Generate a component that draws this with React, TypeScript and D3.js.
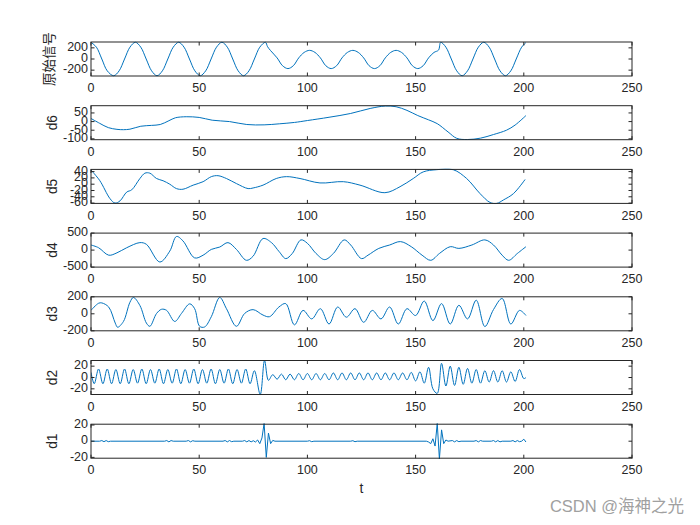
import React from "react";
import * as d3 from "d3";

type P = [number, number];

const xTicks = [0, 50, 100, 150, 200, 250];
const yLabels = ["原始信号", "d6", "d5", "d4", "d3", "d2", "d1"];
const yDomains: [number, number][] = [
  [-305, 305], [-105, 92], [-61, 47], [-500, 500], [-200, 200], [-30, 30], [-21, 21],
];
const yTicks: number[][] = [
  [-200, 0, 200], [-100, -50, 0, 50], [-60, -40, -20, 0, 20, 40], [-500, 0, 500],
  [-200, 0, 200], [-20, 0, 20], [-20, 0, 20],
];

const origSeries: P[] = [
  [0, 300], [2.5, 212], [5, 0], [7.5, -212], [10.5, -300], [13, -212], [15.5, 0], [18, 212], [20.5, 300],
  [23, 212], [25.5, 0], [28, -212], [30.5, -300], [33, -212], [35.5, 0], [38, 212], [40.5, 300],
  [43, 212], [45.5, 0], [48, -212], [50.5, -300], [53, -212], [55.5, 0], [58, 212], [60.5, 300],
  [63, 212], [65.5, 0], [68, -212], [70.5, -300], [73, -212], [75.5, 0], [78, 212], [80.6, 300],
  [81.6, 220], [83, 150], [86, 20], [88.5, -120], [91, -172], [93.5, -120], [96, 20], [98.5, 118], [101, 155],
  [103.5, 118], [106, 20], [108.5, -120], [111, -172], [113.5, -120], [116, 20], [118.5, 118], [121, 155],
  [123.5, 118], [126, 20], [128.5, -120], [131, -172], [133.5, -120], [136, 20], [138.5, 118], [141, 155],
  [143.5, 118], [146, 20], [148.5, -120], [151, -172], [153.5, -120], [156, 20], [158.5, 118], [160.6, 160],
  [161.6, 300], [164, 212], [166.5, 0], [169, -212], [171.5, -300], [174, -212], [176.5, 0], [179, 212], [181.5, 300],
  [184, 212], [186.5, 0], [189, -212], [191.5, -300], [194, -212], [196.5, 0], [199, 212], [201, 295],
];

const d6Series: P[] = [
  [0, 18], [4, -10], [8, -35], [12, -45], [15, -47], [18, -44], [23, -27], [28, -22], [32, -17], [36, 5],
  [39, 22], [44, 28], [50, 24], [56, 8], [64, 0], [72, -17], [80, -19], [87, -13], [94, -5], [100, 6],
  [110, 25], [120, 47], [129, 76], [136, 90], [141, 86], [146, 65], [151, 35], [156, 10], [160, -12],
  [165, -60], [169, -97], [174, -104], [180, -96], [186, -75], [192, -50], [196, -20], [201, 35],
];

const d5Series: P[] = [
  [0, 45], [4, 12], [8.8, -46], [11.1, -60], [13.4, -53], [16.5, -25], [18.8, -18], [22.6, 18], [24.9, 35],
  [27.2, 35], [30.3, 18], [33.3, 11], [36.4, 0], [39.5, -14], [42.5, -16], [47.2, -3], [51.8, 8], [55.6, 24],
  [58.7, 27], [62.6, 18], [67.2, 2], [72.6, -14], [74.9, -12], [79.5, -3], [85.6, 18], [90.4, 24], [96.6, 18],
  [105.8, 4], [116.6, 8], [124.3, -3], [135.8, -27], [142.8, -8], [148.9, 18], [153.5, 39], [159.7, 46],
  [167.4, 46], [173.6, 18], [179.8, -30], [184.4, -58], [187.5, -61], [190.6, -50], [195.2, -30], [200.6, 15],
];

const d4Series: P[] = [
  [0, 150], [3.5, 70], [8.2, -150], [12, -80], [16.5, 70], [22.6, 220], [25.6, 170], [31.8, -350], [36.4, -30],
  [39.5, 400], [42.5, 270], [47.9, -230], [51.8, -150], [55.6, 20], [59.5, 90], [63.3, 220], [67.2, 20],
  [71.8, -300], [74.9, -180], [79.5, 340], [83.4, 220], [87, -50], [90, -250], [93, -100], [97, 300],
  [100, 200], [104, -100], [108, -280], [112, -100], [117, 300], [120, 150], [125, -250], [128, -150],
  [133, 50], [138, 150], [143, 250], [148, 100], [153, -150], [157, -300], [161, -100], [166, 100],
  [170, 50], [176, 150], [182, 300], [186, 150], [190, -150], [193, -300], [197, -100], [201, 100],
];

const d3Series: P[] = [
  [0, 41], [3.5, 124], [5, 128], [8.2, 79], [11.2, -109], [12.3, -158], [15, -90], [18, 136], [19.6, 192],
  [22.6, 98], [25.6, -109], [27.2, -147], [30.3, 4], [32.6, 53], [34.9, 41], [38.7, -90], [41.8, 4],
  [45.6, 117], [47.9, 60], [50.2, -147], [52.5, -155], [55.6, -34], [59.5, 192], [62.6, 60], [67.2, -147],
  [71, 4], [74.9, 49], [79.5, -15], [82.5, -34], [86.8, 79], [90, 120], [94, -130], [98, 40], [102, -60],
  [106, 60], [110, -120], [114, 80], [118, -40], [122, 60], [126, -100], [130, 40], [134, -60], [138, 80],
  [142, -120], [146, 60], [150, -20], [154, 150], [158, -80], [162, 120], [166, -120], [170, 100],
  [174, -60], [178, 160], [182, -150], [186, 50], [190, 180], [194, -120], [198, 40], [201, -20],
];

const d2Series: P[] = [
  [0, 9], [1.5, -11], [3.5, 15], [5.5, -11], [7.5, 15], [9.5, -11], [11.5, 14], [13.5, -11], [15.5, 15],
  [17.5, -11], [19.5, 14], [21.5, -10], [23.5, 15], [25.5, -11], [27.5, 14], [29.5, -10], [31.5, 15],
  [33.5, -11], [35.5, 14], [37.5, -10], [39.5, 15], [41.5, -11], [43.5, 14], [45.5, -10], [47.5, 15],
  [49.5, -11], [51.5, 14], [53.5, -10], [55.5, 15], [57.5, -11], [59.5, 14], [61.5, -10], [63.5, 15],
  [65.5, -11], [67.5, 14], [69.5, -10], [71.5, 15], [73.5, -11], [75.5, 12], [78.2, -30], [80.2, 30],
  [82, -5], [84, 5], [86, -3], [88, 6], [90, -4], [92, 6], [94, -4], [96, 7], [98, -4], [100, 7],
  [102, -4], [104, 7], [106, -4], [108, 7], [110, -4], [112, 8], [114, -4], [116, 8], [118, -4], [120, 8],
  [122, -4], [124, 8], [126, -4], [128, 8], [130, -4], [132, 8], [134, -4], [136, 8], [138, -4], [140, 8],
  [142, -4], [144, 8], [146, -4], [148, 9], [150, -6], [152, 10], [154, -10], [156, 18], [158, -20],
  [160, -28], [162, 25], [164, -15], [166, 20], [168, -14], [170, 18], [172, -12], [174, 16], [176, -10],
  [178, 14], [180, -10], [182, 12], [184, -8], [186, 12], [188, -8], [190, 12], [192, -8], [194, 10],
  [196, -7], [198, 14], [200, -2], [201, 0],
];

const d1Series: P[] = [
  [0, 0], [4, 0], [5, 0.8], [6, -0.6], [7, 0.8], [8, -0.6], [9, 0], [34, 0], [35, 0.8], [36, -0.8], [37, 0.8],
  [38, 0], [44, 0], [45, 0.8], [46, -0.8], [47, 0.6], [48, 0], [61, 0], [62, 0.8], [63, -0.8], [64, 0.8],
  [65, -0.6], [66, 0], [70, 0], [71, 0.8], [72, -0.8], [73, 0.8], [74, -0.8], [75, 0.6], [76, -1], [77, 1.5],
  [78, -3], [79, 4], [80, 22], [81, -20], [82, 10], [83, -3], [84, 1], [85, 0], [100, 0], [101, 0.6],
  [102, -0.6], [103, 0], [120, 0], [121, 0.6], [122, -0.6], [123, 0], [155, 0], [156, -1], [157, -3],
  [158, 3], [159, -6], [160, 22], [161, -22], [162, 14], [163, -3], [164, 1.5], [165, 0], [167, 0.8],
  [168, -0.8], [169, 0.8], [170, -0.6], [171, 0], [177, 0], [178, 0.8], [179, -0.8], [180, 0.8], [181, 0],
  [185, 0], [186, 0.8], [187, -0.8], [188, 0.8], [189, -0.8], [190, 0], [194, 0], [195, 0.8], [196, -0.8],
  [197, 0.8], [198, -0.6], [199, 0], [200, 2.5], [201, -1],
];

const seriesList = [origSeries, d6Series, d5Series, d4Series, d3Series, d2Series, d1Series];

const W = 700;
const H = 525;
const axColor = "#262626";
const lineColor = "#0072BD";
const tickFont = "Arial, 'Liberation Sans', Helvetica, sans-serif";

export default function App() {
  const x = d3.scaleLinear().domain([0, 250]).range([91, 632]);
  const left = x(0);
  const right = x(250);
  const ph = 34;
  const tick = 3.5;
  return (
    <svg
      width={W}
      height={H}
      viewBox={`0 0 ${W} ${H}`}
      style={{ position: "absolute", left: 0, top: 0, background: "#fff" }}
    >
      <rect x={0} y={0} width={W} height={H} fill="#fff" />
      <defs>
        {seriesList.map((_, i) => {
          const top = 42 + i * 63.7;
          return (
            <clipPath id={`clip${i}`} key={i}>
              <rect x={left} y={top - 1} width={right - left} height={ph + 2} />
            </clipPath>
          );
        })}
      </defs>
      {seriesList.map((data, i) => {
        const top = 42 + i * 63.7;
        const bottom = top + ph;
        const y = d3.scaleLinear().domain(yDomains[i]).range([bottom, top]);
        const line = d3
          .line<P>()
          .x((d) => x(d[0]))
          .y((d) => y(d[1]))
          .curve(i === 6 ? d3.curveLinear : d3.curveCatmullRom.alpha(0.5));
        const cy = (top + bottom) / 2;
        return (
          <g key={i}>
            <path d={line(data) || ""} fill="none" stroke={lineColor} strokeWidth={1} clipPath={`url(#clip${i})`} />
            <rect x={left} y={top} width={right - left} height={ph} fill="none" stroke={axColor} strokeWidth={1} />
            {xTicks.map((t) => (
              <g key={t}>
                <line x1={x(t)} x2={x(t)} y1={bottom} y2={bottom - tick} stroke={axColor} />
                <line x1={x(t)} x2={x(t)} y1={top} y2={top + tick} stroke={axColor} />
                <text
                  x={x(t)}
                  y={bottom + 13}
                  textAnchor="middle"
                  dominantBaseline="middle"
                  fontFamily={tickFont}
                  fontSize={12.5}
                  fill={axColor}
                >
                  {t}
                </text>
              </g>
            ))}
            {yTicks[i].map((v) => (
              <g key={v}>
                <line x1={left} x2={left + tick} y1={y(v)} y2={y(v)} stroke={axColor} />
                <line x1={right} x2={right - tick} y1={y(v)} y2={y(v)} stroke={axColor} />
                <text
                  x={left - 3}
                  y={y(v)}
                  textAnchor="end"
                  dominantBaseline="middle"
                  fontFamily={tickFont}
                  fontSize={12.5}
                  fill={axColor}
                >
                  {v}
                </text>
              </g>
            ))}
            <text
              transform={`translate(${i === 0 ? 50 : 53},${cy}) rotate(-90)`}
              textAnchor="middle"
              dominantBaseline="middle"
              fontFamily={i === 0 ? "'Noto Sans CJK SC', serif" : tickFont}
              fontSize={i === 0 ? 13.5 : 13.75}
              fill={axColor}
            >
              {yLabels[i]}
            </text>
          </g>
        );
      })}
      <text
        x={(left + right) / 2}
        y={489}
        textAnchor="middle"
        dominantBaseline="middle"
        fontFamily={tickFont}
        fontSize={13.75}
        fill={axColor}
      >
        t
      </text>
      <text
        x={684}
        y={508}
        textAnchor="end"
        dominantBaseline="middle"
        fontFamily="Arial, 'Noto Sans CJK SC', sans-serif"
        fontSize={16.5}
        fill="#a0a0a0"
      >
        CSDN @海神之光
      </text>
    </svg>
  );
}
